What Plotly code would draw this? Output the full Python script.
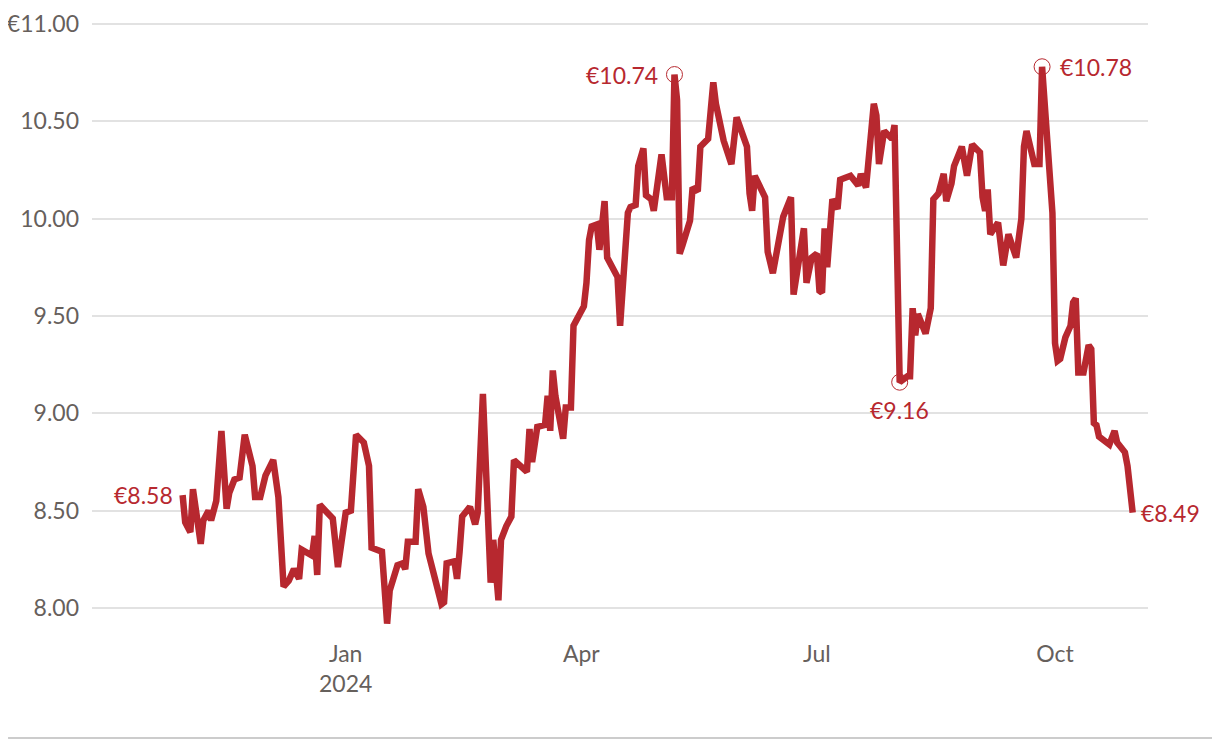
import plotly.graph_objects as go

dates = [
    "2023-10-30", "2023-10-31", "2023-11-02", "2023-11-03", "2023-11-06", "2023-11-07", "2023-11-09", "2023-11-10",
    "2023-11-12", "2023-11-14", "2023-11-16", "2023-11-17", "2023-11-19", "2023-11-21", "2023-11-23", "2023-11-26",
    "2023-11-27", "2023-11-29", "2023-12-01", "2023-12-04", "2023-12-06", "2023-12-08", "2023-12-10", "2023-12-12",
    "2023-12-14", "2023-12-15", "2023-12-19", "2023-12-20", "2023-12-21", "2023-12-22", "2023-12-27", "2023-12-29",
    "2024-01-01", "2024-01-03", "2024-01-05", "2024-01-08", "2024-01-10", "2024-01-11", "2024-01-15", "2024-01-17",
    "2024-01-18", "2024-01-21", "2024-01-23", "2024-01-24", "2024-01-25", "2024-01-28", "2024-01-29", "2024-01-31",
    "2024-02-02", "2024-02-06", "2024-02-07", "2024-02-08", "2024-02-09", "2024-02-12", "2024-02-13", "2024-02-14",
    "2024-02-15", "2024-02-18", "2024-02-20", "2024-02-21", "2024-02-23", "2024-02-26", "2024-02-27", "2024-02-29",
    "2024-03-01", "2024-03-03", "2024-03-05", "2024-03-06", "2024-03-11", "2024-03-12", "2024-03-13", "2024-03-15",
    "2024-03-18", "2024-03-19", "2024-03-20", "2024-03-21", "2024-03-22", "2024-03-25", "2024-03-26", "2024-03-28",
    "2024-03-29", "2024-04-02", "2024-04-03", "2024-04-04", "2024-04-05", "2024-04-07", "2024-04-08", "2024-04-10",
    "2024-04-11", "2024-04-15", "2024-04-16", "2024-04-19", "2024-04-20", "2024-04-22", "2024-04-23", "2024-04-25",
    "2024-04-26", "2024-04-28", "2024-04-29", "2024-05-02", "2024-05-04", "2024-05-06", "2024-05-07", "2024-05-08",
    "2024-05-09", "2024-05-10", "2024-05-13", "2024-05-14", "2024-05-16", "2024-05-17", "2024-05-20", "2024-05-22",
    "2024-05-23", "2024-05-26", "2024-05-29", "2024-05-31", "2024-06-04", "2024-06-05", "2024-06-06", "2024-06-07",
    "2024-06-11", "2024-06-12", "2024-06-14", "2024-06-18", "2024-06-21", "2024-06-22", "2024-06-26", "2024-06-27",
    "2024-06-29", "2024-07-01", "2024-07-02", "2024-07-03", "2024-07-04", "2024-07-05", "2024-07-07", "2024-07-09",
    "2024-07-10", "2024-07-12", "2024-07-14", "2024-07-17", "2024-07-18", "2024-07-20", "2024-07-22", "2024-07-23",
    "2024-07-24", "2024-07-25", "2024-07-27", "2024-07-30", "2024-07-31", "2024-08-02", "2024-08-05", "2024-08-06",
    "2024-08-07", "2024-08-08", "2024-08-09", "2024-08-12", "2024-08-14", "2024-08-15", "2024-08-17", "2024-08-19",
    "2024-08-20", "2024-08-22", "2024-08-23", "2024-08-26", "2024-08-28", "2024-08-30", "2024-09-02", "2024-09-03",
    "2024-09-04", "2024-09-05", "2024-09-06", "2024-09-09", "2024-09-11", "2024-09-13", "2024-09-16", "2024-09-17",
    "2024-09-18", "2024-09-19", "2024-09-20", "2024-09-23", "2024-09-25", "2024-09-26", "2024-09-28", "2024-09-30",
    "2024-10-01", "2024-10-02", "2024-10-03", "2024-10-05", "2024-10-07", "2024-10-08", "2024-10-09", "2024-10-10",
    "2024-10-12", "2024-10-14", "2024-10-15", "2024-10-16", "2024-10-17", "2024-10-18", "2024-10-22", "2024-10-24",
    "2024-10-25", "2024-10-28", "2024-10-29", "2024-10-31",
]

prices = [
    8.58, 8.44, 8.39, 8.61, 8.33, 8.45, 8.50, 8.45,
    8.55, 8.91, 8.51, 8.59, 8.66, 8.67, 8.89, 8.73,
    8.57, 8.57, 8.68, 8.76, 8.57, 8.11, 8.14, 8.20,
    8.15, 8.30, 8.27, 8.37, 8.17, 8.53, 8.46, 8.21,
    8.49, 8.50, 8.89, 8.85, 8.73, 8.31, 8.29, 7.92,
    8.09, 8.22, 8.23, 8.20, 8.34, 8.34, 8.61, 8.52,
    8.28, 8.08, 8.02, 8.03, 8.23, 8.24, 8.15, 8.29,
    8.47, 8.52, 8.43, 8.49, 9.10, 8.13, 8.35, 8.04,
    8.35, 8.42, 8.47, 8.76, 8.70, 8.92, 8.75, 8.93,
    8.94, 9.09, 8.91, 9.22, 9.09, 8.87, 9.03, 9.03,
    9.45, 9.55, 9.67, 9.89, 9.96, 9.97, 9.84, 10.09,
    9.80, 9.70, 9.45, 10.03, 10.06, 10.07, 10.27, 10.36,
    10.12, 10.10, 10.04, 10.33, 10.11, 10.11, 10.74, 10.61,
    9.82, 9.86, 9.99, 10.16, 10.14, 10.37, 10.41, 10.70,
    10.59, 10.40, 10.28, 10.52, 10.37, 10.13, 10.04, 10.22,
    10.11, 9.83, 9.72, 10.01, 10.11, 9.61, 9.95, 9.67,
    9.80, 9.82, 9.63, 9.62, 9.95, 9.75, 10.10, 10.05,
    10.20, 10.21, 10.22, 10.17, 10.23, 10.16, 10.47, 10.59,
    10.53, 10.28, 10.45, 10.41, 10.48, 9.16, 9.19, 9.19,
    9.54, 9.40, 9.51, 9.41, 9.54, 10.10, 10.13, 10.23,
    10.09, 10.18, 10.27, 10.37, 10.22, 10.38, 10.34, 10.11,
    10.04, 10.15, 9.92, 9.98, 9.76, 9.92, 9.80, 9.94,
    10.00, 10.37, 10.45, 10.28, 10.28, 10.78, 10.45, 10.03,
    9.36, 9.27, 9.28, 9.39, 9.45, 9.57, 9.59, 9.21,
    9.21, 9.35, 9.33, 8.95, 8.94, 8.88, 8.84, 8.91,
    8.85, 8.80, 8.73, 8.49,
]

# highlighted points: first high, summer low, second high
marked = ["2024-05-07", "2024-08-02", "2024-09-26"]

ytick_vals = [8.0, 8.5, 9.0, 9.5, 10.0, 10.5, 11.0]
ytick_text = ["8.00", "8.50", "9.00", "9.50", "10.00", "10.50", "€11.00"]
xtick_vals = ["2024-01-01", "2024-04-01", "2024-07-01", "2024-10-01"]
xtick_text = ["Jan<br>2024", "Apr", "Jul", "Oct"]

RED = "#b7282f"
GREY = "#66605c"
FONT = "Lato"

fig = go.Figure()
fig.add_trace(go.Scatter(
    x=dates, y=prices, mode="lines",
    line=dict(color=RED, width=6.5),
    hoverinfo="skip", showlegend=False,
))
fig.add_trace(go.Scatter(
    x=marked, y=[prices[dates.index(d)] for d in marked], mode="markers",
    marker=dict(symbol="circle-open", size=16, color=RED, line=dict(color=RED, width=1)),
    hoverinfo="skip", showlegend=False,
))

def label(d, xanchor, yanchor, xshift=0, yshift=0):
    v = prices[dates.index(d)]
    fig.add_annotation(
        x=d, y=v, text=f"€{v:.2f}", showarrow=False,
        xanchor=xanchor, yanchor=yanchor, xshift=xshift, yshift=yshift,
        font=dict(family=FONT, size=23, color=RED),
    )

label(dates[0], "right", "middle", xshift=-8)
label("2024-05-07", "right", "middle", xshift=-14)
label("2024-08-02", "center", "top", yshift=-12)
label("2024-09-26", "left", "middle", xshift=16)
label(dates[-1], "left", "middle", xshift=6)

# thin rule along the bottom of the graphic
fig.add_shape(
    type="line", xref="paper", yref="paper",
    x0=-0.0795, x1=1.0682, y0=-0.1715, y1=-0.1715,
    line=dict(color="#cccccc", width=2),
)

# page body adds an 8px margin, so the figure is slightly smaller than the window
fig.update_layout(
    width=1212, height=742,
    margin=dict(l=84, r=72, t=6, b=118),
    paper_bgcolor="white", plot_bgcolor="white",
    font=dict(family=FONT, size=23, color=GREY),
    xaxis=dict(
        type="date", range=["2023-09-25", "2024-11-05 22:00"],
        tickvals=xtick_vals, ticktext=xtick_text,
        showgrid=False, zeroline=False, showline=False, ticks="",
        ticklabelstandoff=6, automargin=False,
    ),
    yaxis=dict(
        range=[7.877, 11.051],
        tickvals=ytick_vals, ticktext=ytick_text,
        showgrid=True, gridcolor="#e2e2e2", gridwidth=1.5,
        zeroline=False, showline=False, ticks="",
        ticklabelstandoff=12, automargin=False, ticklabeloverflow="allow",
    ),
)

fig.write_html("out.html")
